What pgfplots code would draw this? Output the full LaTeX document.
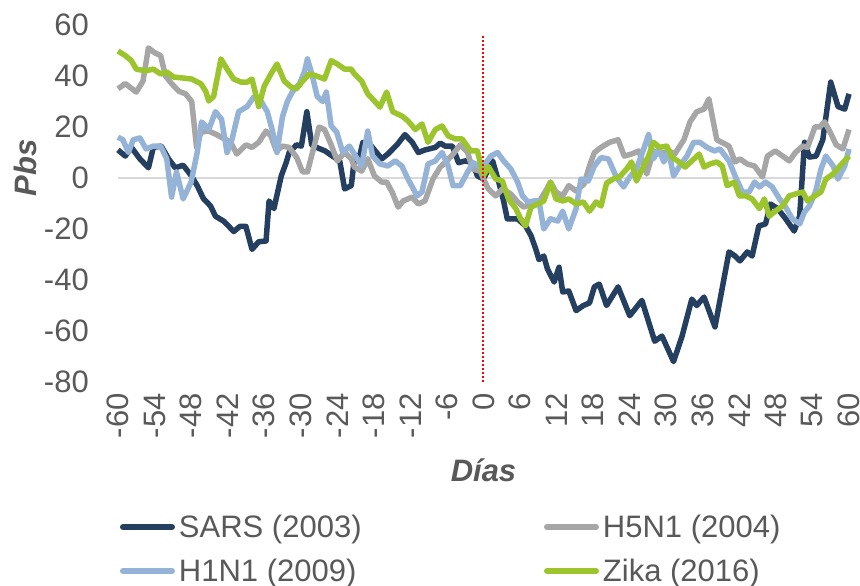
\documentclass[border=0pt]{standalone}
\usepackage{fontspec}
\setmainfont{Liberation Sans}
\usepackage{pgfplots}
\pgfplotsset{compat=1.18}
\definecolor{tc}{RGB}{89,89,89}
\definecolor{sars}{RGB}{36,63,96}
\definecolor{hfive}{RGB}{166,166,166}
\definecolor{hone}{RGB}{149,179,215}
\definecolor{zika}{RGB}{155,196,45}
\definecolor{zl}{RGB}{217,217,217}
\definecolor{vred}{RGB}{255,0,0}
\newcommand{\F}{\fontsize{31}{37}\selectfont}
\begin{document}
\begin{tikzpicture}
\useasboundingbox (-118pt,-204pt) rectangle (742pt,382pt);
\begin{axis}[
  at={(0pt,0pt)}, anchor=south west,
  scale only axis, width=731pt, height=357pt,
  xmin=-60, xmax=60, ymin=-80, ymax=60,
  clip=false,
  axis line style={draw=none},
  major tick length=0pt,
  xtick={-60,-54,...,60},
  ytick={-80,-60,...,60},
  /pgf/number format/assume math mode=true,
  ticklabel style={font=\F, text=tc, inner sep=0pt},
  yticklabel style={anchor=east, xshift=-29pt},
  xticklabel style={rotate=90, anchor=east, xshift=-11pt},
  xlabel={\bfseries\itshape Días},
  ylabel={\bfseries\itshape Pbs},
  xlabel style={font=\F, text=tc, at={(axis description cs:0.5,0)}, anchor=center, yshift=-88pt},
  ylabel style={font=\F, text=tc, at={(axis description cs:0,0.6)}, anchor=center, yshift=93pt},
  legend columns=2,
  legend cell align=left,
  legend style={at={(axis description cs:0,0)}, anchor=north west, xshift=2pt, yshift=-133pt,
    draw=none, fill=none, inner sep=0pt, outer sep=0pt, row sep=20pt,
    nodes={inner sep=0pt, text=tc, font=\F},
    /tikz/every odd column/.style={column sep=4pt}},
  legend image code/.code={\draw[#1, line width=6pt, line cap=round] (3pt,0pt) -- (52pt,0pt);},
  every axis plot/.append style={line width=5.5pt, line join=round},
]
\addplot[zl, line width=2pt, forget plot] coordinates {(-60,0) (60,0)};
\addplot[sars] coordinates {(-60,11) (-58.8,8.6) (-57.8,12) (-56.4,7.5) (-55,4) (-54.2,12) (-52.9,12.5) (-51.7,7.5) (-50.6,4) (-49.3,5) (-48,1) (-47,-3) (-46,-8) (-44.8,-11) (-44,-15) (-42.6,-17) (-41,-21) (-40,-19) (-39,-19) (-38,-28) (-36.9,-25) (-35.7,-24.7) (-35.2,-9) (-34.4,-12) (-33.2,0.8) (-32.4,6) (-31.9,10) (-30.7,13) (-29.9,12.5) (-29,26) (-28.2,13) (-27.4,12) (-26,10.6) (-24.8,8.6) (-23.6,6.7) (-22.8,-4.3) (-21.7,-3) (-21.2,7.5) (-20.3,9) (-19.8,14) (-18.4,12.5) (-16.7,7.5) (-15.7,9.4) (-14.2,13) (-12.9,17) (-11.7,14) (-10.7,10) (-9.6,11) (-7.9,12) (-7.1,13.7) (-6.3,12.5) (-5.1,12.5) (-4.1,6) (-3,6.7) (-1.8,6) (-1,0.8) (0,-0.4) (1.5,6.7) (2.5,-1.6) (3.3,-9) (3.9,-16) (5.6,-16) (6.9,-18.8) (7.8,-22.6) (8.6,-28) (9.1,-32) (9.9,-30.6) (10.5,-35.7) (11.6,-40.8) (12.4,-35) (13,-44.7) (14,-44.3) (15.2,-52) (16.4,-50) (17.4,-49) (18.2,-42.7) (19,-41.6) (20.2,-50) (22.1,-42.7) (24,-54) (26,-48) (28.1,-64) (29.3,-62) (31.2,-72) (32.6,-62) (34.2,-47.5) (35,-50) (36.2,-46.7) (38,-58.4) (40.3,-29) (41.3,-30.6) (42.1,-32.5) (43.3,-29) (44.1,-30.6) (45.2,-18.8) (46.3,-18) (47.1,-10.2) (48.3,-12) (49.6,-16) (51,-20.8) (51.9,-15) (52.7,14) (53.5,8.2) (54.6,8.6) (55.7,15) (57,37.6) (58.2,28) (59.3,27) (60,33)};
\addlegendentry{\makebox[365pt][l]{SARS (2003)}}
\addplot[hfive] coordinates {(-60,35) (-58.8,37) (-57,33.7) (-55.9,38) (-55,51) (-53.9,49) (-53,48) (-52.2,40) (-51.2,37) (-50,34) (-48.9,33) (-47.9,30) (-47.1,12) (-46.4,18) (-45.1,18.4) (-43.8,17) (-42.3,15) (-41.5,14) (-40.5,9.4) (-39,13) (-38,12) (-36.9,14) (-35.7,18.4) (-34.9,16.5) (-34,10.6) (-33,12.5) (-31.9,12) (-30.7,8.2) (-29.7,2.4) (-28.9,2.4) (-27.8,12.5) (-27,20) (-26.1,19) (-25,13) (-24,6.7) (-22.8,10) (-21.7,7.5) (-21.2,4.3) (-20,2.7) (-19,7.5) (-17.9,0.8) (-16.7,-1.6) (-15.9,-1.6) (-15,-5.5) (-14,-11.4) (-13.2,-9) (-11.7,-7.5) (-10.7,-10.2) (-9.6,-9) (-8.3,-0.4) (-7.1,4.3) (-6,6.7) (-5,9.4) (-3.8,13) (-2.6,10) (-1.8,3.5) (-0.5,2.7) (0,-0.4) (0.8,-4.3) (2,-7) (3.1,-4.3) (4.5,-6.3) (5.6,-9.4) (6.6,-11.4) (7.8,-10.2) (9.1,-9.4) (10.2,-5.1) (11,-1.6) (11.9,-5.5) (13,-7) (14,-3) (15.2,-5.1) (16.5,-2.4) (17.4,4.7) (18.2,10) (19.3,12) (20.7,14) (22.1,15) (23.1,8.6) (24.3,9.4) (25.5,10.6) (26.8,1.6) (27.9,10.6) (28.9,9.4) (30.4,10.6) (31.4,9.4) (32.9,15) (33.9,22) (35,26) (36.2,27) (37,31) (38.3,15) (40.3,12.5) (41.3,6.3) (42.1,7.5) (43.3,5.5) (44.5,4.7) (45.8,0.4) (46.6,8.6) (47.9,10.6) (49.1,8.6) (50.2,6.7) (51.2,10) (52.4,12.5) (53.2,12) (54.4,20) (55.2,20) (56,22) (56.9,18) (57.9,13) (59,11.4) (60,19)};
\addlegendentry{H5N1 (2004)}
\addplot[hone] coordinates {(-60,16) (-59.2,15) (-58.3,10) (-57.5,15) (-56.4,15.7) (-55.4,11.4) (-54.2,12.5) (-53,12.5) (-52,7.5) (-51.2,-7.5) (-50.4,2.4) (-49.3,-8.2) (-48,-1.6) (-47,10) (-46.3,22) (-45.1,19) (-44,26) (-43,23) (-42.1,10) (-41.3,15) (-40.2,26) (-38.8,28) (-37.7,31.8) (-36.5,30) (-35.5,26) (-34.7,19) (-33.9,10) (-33,24) (-32.2,30) (-31.4,33.7) (-30.2,37) (-29.4,41.6) (-28.9,46.7) (-28.1,40) (-27.3,32) (-26.4,30) (-25.8,33.7) (-25,20.4) (-24.1,18) (-23.1,10) (-22,12.5) (-21.2,9.4) (-20,4.7) (-19,18.4) (-18.2,8.6) (-17,5.5) (-15.7,4.7) (-14.5,6.7) (-13.4,4.7) (-12.4,-0.4) (-10.9,-7) (-10.1,-5.5) (-9.1,5.5) (-7.9,6.7) (-6.8,10) (-5.8,4.7) (-5,-3) (-3.8,-3) (-2.6,2.4) (-1.7,6) (-0.5,4.3) (0,4.7) (1.2,8.6) (2.3,10) (3.3,6.7) (4.5,3.5) (5.6,-1.6) (6.4,-7) (7.3,-9.4) (8.3,-9) (9.1,-9) (9.9,-20) (11,-16) (12.2,-16.9) (13,-13) (14,-20) (15.2,-12) (16,-0.4) (17.2,-1.2) (18.2,4.7) (19.3,8) (20.5,7.5) (21.8,0.4) (23,-3.5) (24,0.4) (25.1,3.5) (26.3,11.4) (27.1,17) (27.9,7.5) (28.8,11.4) (29.6,6.3) (30.4,10.6) (31.2,0.8) (32.2,4.7) (33.4,8.6) (34.5,14) (35.5,14) (36.7,12) (37.9,10.6) (38.8,11.4) (40.3,6.7) (41.3,0.8) (42.5,-5.5) (43.6,-5.5) (44.5,-1.6) (45.3,-3.5) (46.3,-1.6) (47.4,-3.5) (48.6,-8.2) (49.6,-11.4) (50.7,-16) (51.9,-18) (52.7,-13.3) (53.5,-11) (54.5,-5.5) (55.4,3.5) (56.2,8.6) (57.4,4.7) (58.2,-0.4) (59.3,4.7) (60,11.4)};
\addlegendentry{\makebox[365pt][l]{H1N1 (2009)}}
\addplot[zika] coordinates {(-60,49.8) (-58.8,48) (-57.8,46) (-57,42.7) (-55.5,42) (-54.2,42.7) (-53,40.8) (-52,41.6) (-50.9,39.6) (-49.3,39.2) (-47.9,38.8) (-46.4,37) (-45.6,34) (-45.1,30.2) (-44.3,32) (-43.1,46.7) (-42.1,42.7) (-41,38.8) (-39.8,37.6) (-38.8,37.6) (-38,38.8) (-36.9,28) (-36,36) (-34.9,40.8) (-33.9,44.7) (-32.7,38) (-31.6,35.7) (-30.7,35) (-29.7,38) (-28.6,40.8) (-27.4,40) (-26.1,38.8) (-25,46) (-24,44.7) (-22.8,42.7) (-21.7,42.7) (-21.2,40.8) (-20,38) (-19,33) (-17.9,30.2) (-17,27.8) (-15.9,33.7) (-14.9,26) (-13.4,24.3) (-12.4,22.4) (-11.2,19) (-10.1,21.2) (-9.1,14) (-7.9,19) (-6.8,20.4) (-5.8,16.5) (-4.6,15.3) (-3.5,15.3) (-2.1,10.6) (-1,10.6) (0,1) (0.8,4.5) (2,-0.4) (3.1,-1.2) (4.1,-8.2) (5.3,-12) (6.1,-16) (6.9,-18.8) (7.8,-11.4) (8.9,-10.2) (9.9,-9) (11,-1.6) (11.9,-8.2) (13,-9) (14,-8.2) (15.2,-10.2) (16.4,-9.4) (17.4,-13) (18.5,-9.4) (19.3,-11) (20.2,-2) (21.3,-0.4) (22.3,0.4) (23.5,3.5) (24.3,6.3) (25.1,-1.2) (26.3,4.7) (27.1,8.6) (27.9,14) (28.9,12) (30.1,12.5) (30.9,8.2) (32.1,6.3) (33.1,4.3) (34.2,6.7) (35.4,9.4) (36.2,4.3) (37.2,5.5) (38.3,6.3) (39.2,4.7) (40,-3) (41.2,-1.6) (42,-7) (43,-7) (44.1,-8.2) (45.3,-12) (46.1,-8.2) (46.9,-15) (47.9,-13) (49.1,-11) (50.2,-7) (51.2,-6.3) (52.4,-5.5) (53.2,-9) (54.4,-7) (55.4,-5.5) (56.2,-0.4) (57.4,1.6) (58.5,4.7) (60,8.6)};
\addlegendentry{Zika (2016)}
\addplot[vred, line width=2pt, dash pattern=on 2pt off 2pt, forget plot] coordinates {(0,-80) (0,56)};
\end{axis}
\end{tikzpicture}
\end{document}
